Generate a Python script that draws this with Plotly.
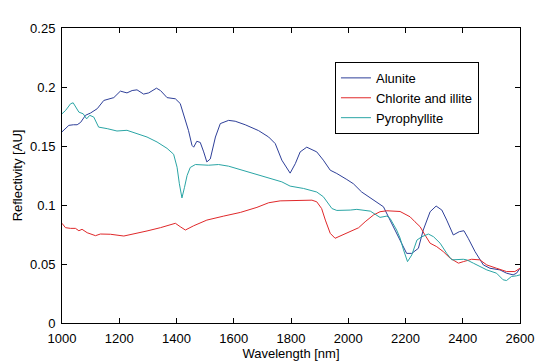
import plotly.graph_objects as go

# Alunite
alunite_wl = [1000, 1012, 1024, 1040, 1053, 1065, 1082, 1100, 1123, 1146, 1165, 1181, 1204, 1227, 1245,
              1262, 1285, 1303, 1330, 1344, 1367, 1396, 1413, 1425, 1442, 1454, 1460, 1471, 1483, 1495,
              1506, 1518, 1536, 1553, 1582, 1605, 1640, 1687, 1722, 1745, 1768, 1797, 1815, 1832, 1855,
              1890, 1913, 1937, 1960, 1995, 2018, 2047, 2088, 2123, 2146, 2169, 2192, 2204, 2222, 2245,
              2262, 2286, 2307, 2327, 2344, 2367, 2388, 2404, 2419, 2443, 2472, 2495, 2530, 2553, 2576,
              2588, 2600]
alunite_val = [0.162, 0.165, 0.1675, 0.168, 0.168, 0.170, 0.176, 0.178, 0.1816, 0.1886, 0.190, 0.191,
               0.1965, 0.195, 0.197, 0.1976, 0.194, 0.195, 0.199, 0.197, 0.191, 0.190, 0.186, 0.177,
               0.163, 0.1506, 0.149, 0.154, 0.153, 0.145, 0.1365, 0.139, 0.1576, 0.169, 0.1717, 0.171,
               0.168, 0.163, 0.1576, 0.152, 0.138, 0.127, 0.135, 0.145, 0.149, 0.145, 0.138, 0.1295,
               0.1267, 0.1216, 0.118, 0.111, 0.104, 0.0985, 0.0872, 0.076, 0.0647, 0.059, 0.059, 0.0633,
               0.0788, 0.0943, 0.0991, 0.0957, 0.0872, 0.0746, 0.0774, 0.0782, 0.0718, 0.0605, 0.0492,
               0.0464, 0.045, 0.0422, 0.0408, 0.0422, 0.0464]

# Chlorite and illite
chlorite_wl = [1000, 1012, 1030, 1047, 1059, 1070, 1088, 1117, 1134, 1169, 1216, 1250, 1297, 1344, 1396,
               1413, 1431, 1460, 1506, 1565, 1623, 1681, 1722, 1762, 1832, 1873, 1890, 1907, 1920, 1937,
               1954, 1972, 2001, 2036, 2059, 2088, 2111, 2135, 2181, 2216, 2233, 2251, 2268, 2286, 2309,
               2332, 2356, 2385, 2402, 2431, 2460, 2484, 2518, 2553, 2582, 2594, 2600]
chlorite_val = [0.0845, 0.0808, 0.0802, 0.0802, 0.0782, 0.0794, 0.0765, 0.074, 0.0754, 0.0752, 0.0737,
                0.0754, 0.078, 0.0808, 0.0845, 0.0816, 0.0788, 0.0824, 0.0872, 0.0906, 0.0937, 0.098,
                0.1019, 0.1035, 0.1041, 0.1041, 0.1027, 0.097, 0.0872, 0.076, 0.0718, 0.0737, 0.0774,
                0.0807, 0.0858, 0.0915, 0.0943, 0.0951, 0.0945, 0.0900, 0.0858, 0.0816, 0.0746, 0.0676,
                0.0647, 0.0605, 0.0549, 0.0507, 0.052, 0.054, 0.0535, 0.0492, 0.0464, 0.0436, 0.0436,
                0.045, 0.0464]

# Pyrophyllite
pyro_wl = [1000, 1012, 1030, 1039, 1059, 1074, 1086, 1097, 1111, 1128, 1158, 1192, 1227, 1262, 1297,
           1332, 1367, 1390, 1402, 1410, 1419, 1428, 1437, 1448, 1466, 1512, 1547, 1582, 1629, 1675,
           1722, 1768, 1797, 1844, 1890, 1913, 1943, 1960, 2007, 2030, 2077, 2111, 2135, 2146, 2169,
           2181, 2193, 2207, 2222, 2240, 2257, 2280, 2298, 2321, 2344, 2362, 2402, 2414, 2437, 2484,
           2518, 2541, 2553, 2570, 2588, 2600]
pyro_val = [0.1773, 0.180, 0.1858, 0.1866, 0.1787, 0.1773, 0.173, 0.176, 0.1745, 0.166, 0.1647, 0.1627,
            0.1633, 0.1605, 0.1576, 0.1534, 0.148, 0.143, 0.132, 0.118, 0.106, 0.115, 0.125, 0.1318,
            0.1343, 0.1337, 0.1343, 0.1329, 0.1295, 0.1258, 0.123, 0.1196, 0.116, 0.114, 0.111, 0.107,
            0.097, 0.0954, 0.0957, 0.0963, 0.0948, 0.0895, 0.0906, 0.0887, 0.0788, 0.072, 0.062, 0.052,
            0.0577, 0.0703, 0.0731, 0.0754, 0.0731, 0.0676, 0.059, 0.0535, 0.054, 0.0535, 0.0507, 0.045,
            0.0422, 0.0366, 0.036, 0.0394, 0.040, 0.0408]

FONT = "Liberation Sans, Arial, sans-serif"

fig = go.Figure()
fig.add_trace(go.Scatter(x=alunite_wl, y=alunite_val, mode="lines", name="Alunite",
                         line=dict(color="#2E3F99", width=1)))
fig.add_trace(go.Scatter(x=chlorite_wl, y=chlorite_val, mode="lines", name="Chlorite and illite",
                         line=dict(color="#E0282A", width=1)))
fig.add_trace(go.Scatter(x=pyro_wl, y=pyro_val, mode="lines", name="Pyrophyllite",
                         line=dict(color="#2AA5A5", width=1)))

axis_common = dict(showline=True, linecolor="black", linewidth=1, mirror="ticks",
                   ticks="inside", ticklen=5, tickcolor="black", showgrid=False, zeroline=False,
                   automargin=False,
                   tickfont=dict(family=FONT, size=13, color="black"))

# The page body adds an 8 px offset, so the figure is 8 px smaller and margins shifted.
fig.update_layout(
    width=542, height=355,
    margin=dict(l=54, r=30, t=20, b=40),
    paper_bgcolor="white", plot_bgcolor="white",
    font=dict(family=FONT, size=13, color="black"),
    xaxis=dict(range=[1000, 2600], dtick=200, tick0=1000, ticklabelstandoff=3,
               title=dict(text="Wavelength [nm]", standoff=1, font=dict(family=FONT, size=13)),
               **axis_common),
    yaxis=dict(range=[0, 0.25], dtick=0.05, tick0=0, ticklabelstandoff=3,
               title=dict(text="Reflectivity [AU]", standoff=4, font=dict(family=FONT, size=13)),
               **axis_common),
    legend=dict(x=0.596, y=0.885, xanchor="left", yanchor="top",
                bordercolor="black", borderwidth=1, bgcolor="white",
                font=dict(family=FONT, size=13, color="black"),
                tracegroupgap=0, itemwidth=30),
    showlegend=True,
)

fig.write_html("out.html")
